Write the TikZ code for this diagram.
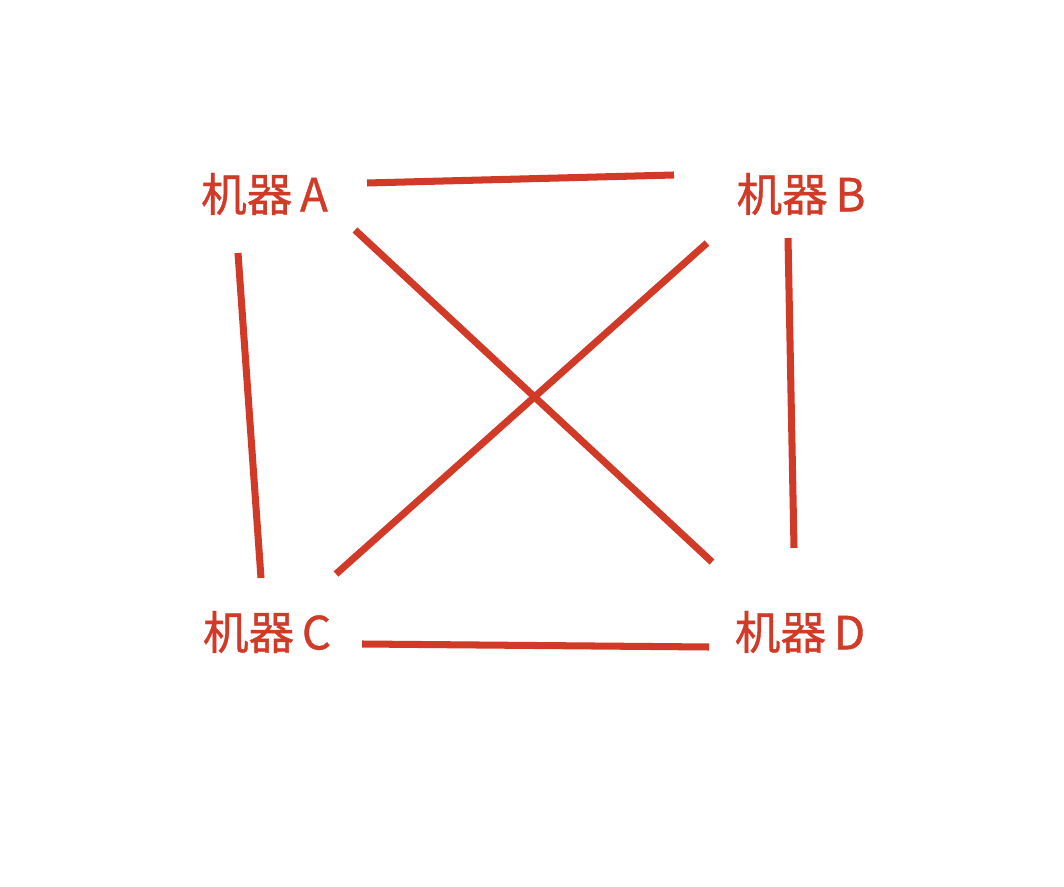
\documentclass[tikz,border=0pt]{standalone}
\usepackage{fontspec}
\newfontfamily\cjk[FakeBold=0.8]{Noto Sans CJK SC}
\definecolor{mcRed}{HTML}{D23A28}
\usepackage{tikz}
\usetikzlibrary{calc}

\begin{document}
\begin{tikzpicture}[
  machine/.style={font=\cjk\fontsize{26}{30}\selectfont, text=mcRed, inner sep=0pt},
  link/.style={mcRed, line width=4pt}
]
  \useasboundingbox (0,0) rectangle (21.28,17.72);

  % Machines
  \node[machine] (machA) at (5.29,13.84) {机器\,A};
  \node[machine] (machB) at (16.02,13.84) {机器\,B};
  \node[machine] (machC) at (5.34,5.08) {机器\,C};
  \node[machine] (machD) at (16.00,5.08) {机器\,D};

  % Outer links
  \draw[link] ($(machA)+(2.05,0.22)$) -- ($(machB)+(-2.54,0.38)$);
  \draw[link] ($(machA)+(-0.53,-1.18)$) -- ($(machC)+(-0.12,1.08)$);
  \draw[link] ($(machB)+(-0.26,-0.88)$) -- ($(machD)+(-0.12,1.68)$);
  \draw[link] ($(machC)+(1.90,-0.24)$) -- ($(machD)+(-1.82,-0.30)$);

  % Diagonals
  \draw[link] ($(machA)+(1.81,-0.72)$) -- ($(machD)+(-1.76,1.40)$);
  \draw[link] ($(machB)+(-1.88,-0.98)$) -- ($(machC)+(1.38,1.16)$);

\end{tikzpicture}
\end{document}
